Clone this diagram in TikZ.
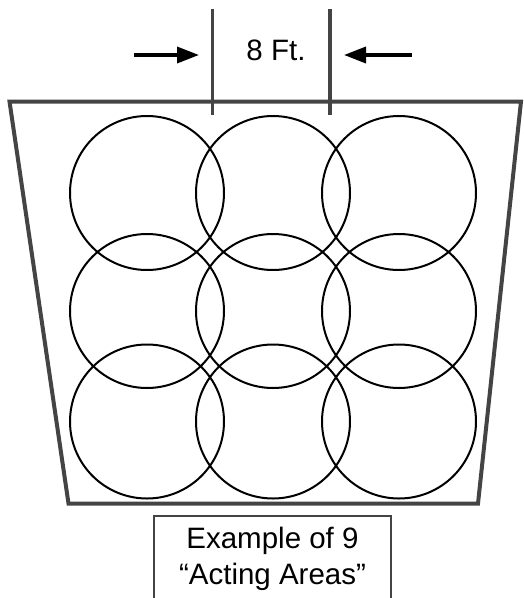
\documentclass[tikz,border=0pt]{standalone}
\usepackage{fontspec}
\setmainfont{Liberation Sans}
\usetikzlibrary{arrows.meta}
\definecolor{edgegray}{HTML}{444444}
\begin{document}
\begin{tikzpicture}[x=1pt,y=-1pt,
  area/.style={circle,draw=black,line width=2pt,minimum size=154pt,inner sep=0pt},
  stage/.style={draw=edgegray,line width=4pt,line join=miter},
  marker/.style={draw=edgegray,line width=3.5pt},
  pointer/.style={draw=black,line width=3.5pt,-{Triangle[length=22pt,width=16pt]}},
  labelbox/.style={draw=edgegray,line width=2pt},
  lbl/.style={font=\fontsize{29.5}{34}\selectfont,anchor=base},
  captext/.style={font=\fontsize{29.5}{36}\selectfont,anchor=base}]
\useasboundingbox (0,0) rectangle (524,598);
% stage outline
\draw[stage] (9.5,101.5) -- (521,101.5) -- (478,503.5) -- (68.5,503.5) -- cycle;
% acting areas
\foreach \c [count=\i] in {147,273,399}{
  \foreach \r [count=\j] in {193,311,421.5}{
    \node[area] (a\i\j) at (\c,\r) {};
  }
}
% dimension markers
\coordinate (m1t) at (212.5,9);
\coordinate (m1b) at (212.5,115);
\coordinate (m2t) at (330,9);
\coordinate (m2b) at (330,115);
\draw[marker] (m1t) -- (m1b);
\draw[marker] (m2t) -- (m2b);
\node[lbl] (ft) at (276,60) {8 Ft.};
\coordinate (p1s) at (134,55);
\coordinate (p1e) at (199,55);
\coordinate (p2s) at (412,55);
\coordinate (p2e) at (344,55);
\draw[pointer] (p1s) -- (p1e);
\draw[pointer] (p2s) -- (p2e);
% caption box
\draw[labelbox] (154,610) -- (154,516) -- (390.5,516) -- (390.5,610);
\node[captext] (c1) at (272.5,548) {Example of 9};
\node[captext] (c2) at (272.5,584) {“Acting Areas”};
\end{tikzpicture}
\end{document}
